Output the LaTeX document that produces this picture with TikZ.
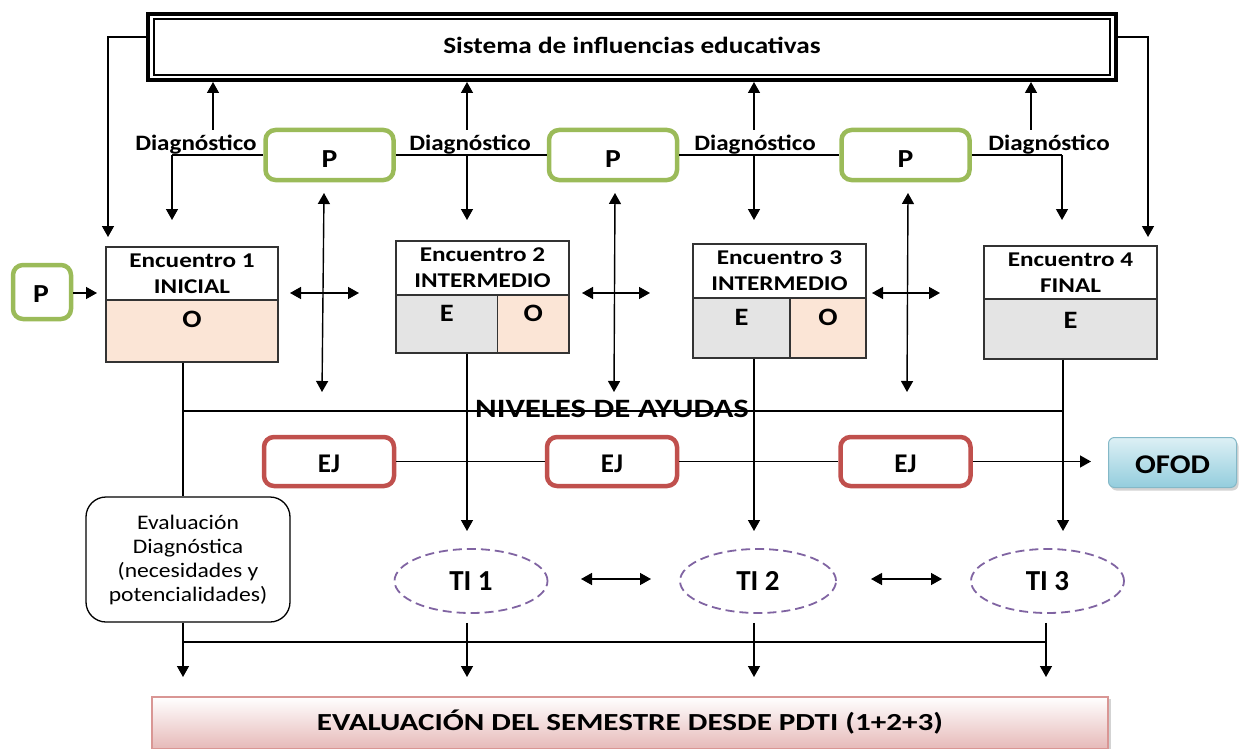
\documentclass[tikz,border=0pt]{standalone}
\usepackage{fontspec}
\setmainfont{Carlito}
\newfontfamily\fstA{Carlito}[FakeStretch=1.17]
\newfontfamily\fstB{Carlito}[FakeStretch=1.14]
\newfontfamily\fstC{Carlito}[FakeStretch=1.2]
\newfontfamily\fstD{Carlito}[FakeStretch=1.24]
\newfontfamily\fstE{Carlito}[FakeStretch=1.27]
\usetikzlibrary{arrows.meta,shapes.geometric,shadows,calc}
\definecolor{pgreen}{HTML}{9BBB59}
\definecolor{pred}{HTML}{C0504D}
\definecolor{ppurple}{HTML}{8064A2}
\definecolor{peach}{HTML}{FBE5D6}
\definecolor{grayc}{HTML}{E4E4E4}
\definecolor{ofodtop}{HTML}{DDF0F5}
\definecolor{ofodbot}{HTML}{93CDDD}
\definecolor{pinkbot}{HTML}{E6B9B8}
\definecolor{pinkbd}{HTML}{D99694}
\tikzset{
  arr/.style={-{Triangle[length=11pt,width=12pt]}, line width=1.4pt},
  darr/.style={{Triangle[length=11pt,width=12pt]}-{Triangle[length=11pt,width=12pt]}, line width=1.4pt},
  ln/.style={line width=1.4pt},
  diag/.style={font=\fstB\bfseries\fontsize{22}{26}\selectfont, inner sep=0pt},
  pbox/.style={draw=pgreen, line width=4.5pt, rounded corners=10pt, minimum width=128pt, minimum height=50pt, inner sep=0pt},
  ejbox/.style={draw=pred, line width=4.5pt, rounded corners=10pt, minimum width=130pt, minimum height=49pt, inner sep=0pt},
  ptxt/.style={inner sep=0pt, font=\fstB\bfseries\fontsize{26}{30}\selectfont},
  ejtxt/.style={inner sep=0pt, font=\bfseries\fontsize{27}{30}\selectfont},
  hdr/.style={draw=black!80, line width=1.2pt, fill=white, align=center, inner sep=0pt, font=\fstC\bfseries\fontsize{21}{26}\selectfont},
  cellO/.style={draw=black!80, line width=1.2pt, fill=peach, inner sep=0pt},
  cellE/.style={draw=black!80, line width=1.2pt, fill=grayc, inner sep=0pt},
  celltxt/.style={inner sep=0pt, font=\fstB\bfseries\fontsize{25}{28}\selectfont},
  tiell/.style={ellipse, draw=ppurple, line width=1.8pt, dash pattern=on 9pt off 5pt, minimum height=64pt, inner sep=0pt, font=\bfseries\fontsize{29}{32}\selectfont},
}
\begin{document}
\begin{tikzpicture}[x=1pt,y=-1pt]
\useasboundingbox (0,0) rectangle (1239,749);

% top system box
\node[draw, line width=4pt, minimum width=968pt, minimum height=66pt, inner sep=0pt] (sys) at (632,47) {};
\draw[line width=1.2pt] ($(sys.south west)+(8,-7)$) rectangle ($(sys.north east)+(-8,7)$);
\node[inner sep=0pt, font=\fstA\bfseries\fontsize{23.3}{28}\selectfont] (syst) at (632,45) {Sistema de influencias educativas};

% side connectors
\coordinate (lc) at (108,237);
\coordinate (rc) at (1148,237);
\draw[arr] (sys.west |- 0,37) -| (lc);
\draw[arr] (sys.east |- 0,37) -| (rc);

% P boxes
\node[pbox] (p1) at (329.5,155) {};
\node[pbox] (p2) at (613,155) {};
\node[pbox] (p3) at (905.5,155) {};
\node[pbox, minimum width=58pt, minimum height=54pt] (p0) at (42,292) {};
\node[ptxt] (p1t) at (329.5,159) {P};
\node[ptxt] (p2t) at (613,159) {P};
\node[ptxt] (p3t) at (905.5,159) {P};
\node[ptxt] (p0t) at (41,294) {P};

% diagnostico labels
\node[diag] (dg1) at (196,145) {Diagnóstico};
\node[diag] (dg2) at (470,145) {Diagnóstico};
\node[diag] (dg3) at (755,145) {Diagnóstico};
\node[diag] (dg4) at (1049,145) {Diagnóstico};

% diagnostic line
\coordinate (d1) at (172,155);
\coordinate (d2) at (467,155);
\coordinate (d3) at (754,155);
\coordinate (d4) at (1062,155);
\draw[ln] (d1) -- (p1.west);
\draw[ln] (p1.east) -- (p2.west);
\draw[ln] (p2.east) -- (p3.west);
\draw[ln] (p3.east) -- (d4);
\draw[arr] (d1) -- (172,220);
\draw[arr] (d2) -- (467,220);
\draw[arr] (d3) -- (754,220);
\draw[arr] (d4) -- (1062,220);
% up arrows
\coordinate (u1) at (213,130);
\coordinate (u2) at (467,130);
\coordinate (u3) at (754,130);
\coordinate (u4) at (1031,130);
\draw[arr] (u1) -- (sys.south -| u1);
\draw[arr] (u2) -- (sys.south -| u2);
\draw[arr] (u3) -- (sys.south -| u3);
\draw[arr] (u4) -- (sys.south -| u4);

% encounters
\node[hdr, minimum width=172pt, minimum height=53pt] (e1h) at (192,273.5) {Encuentro 1\\INICIAL};
\node[cellO, minimum width=172pt, minimum height=62pt] (e1b) at (192,331) {};
\node[celltxt] (e1t) at (192,319) {O};

\node[hdr, minimum width=173pt, minimum height=54pt] (e2h) at (482.5,268) {Encuentro 2\\INTERMEDIO};
\node[cellE, minimum width=101.5pt, minimum height=58pt] (e2e) at (446.75,324) {};
\node[cellO, minimum width=71.5pt, minimum height=58pt] (e2o) at (533.25,324) {};
\node[celltxt] (e2et) at (446.75,313) {E};
\node[celltxt] (e2ot) at (533.25,313) {O};

\node[hdr, minimum width=173pt, minimum height=54pt] (e3h) at (779.5,271) {Encuentro 3\\INTERMEDIO};
\node[cellE, minimum width=97pt, minimum height=60pt] (e3e) at (741.5,328) {};
\node[cellO, minimum width=76pt, minimum height=60pt] (e3o) at (828,328) {};
\node[celltxt] (e3et) at (741.5,317) {E};
\node[celltxt] (e3ot) at (828,317) {O};

\node[hdr, minimum width=173pt, minimum height=53pt] (e4h) at (1070.5,272.5) {Encuentro 4\\FINAL};
\node[cellE, minimum width=173pt, minimum height=60pt] (e4b) at (1070.5,329) {};
\node[celltxt] (e4t) at (1070.5,320) {E};

% P0 arrow
\coordinate (p0a) at (97,293);
\draw[arr] (p0.east |- p0a) -- (p0a);

% horizontal double arrows between encounters
\coordinate (h1a) at (290,293); \coordinate (h1b) at (359,293);
\coordinate (h2a) at (582,293); \coordinate (h2b) at (650,293);
\coordinate (h3a) at (872,293); \coordinate (h3b) at (940,293);
\draw[darr] (h1a) -- (h1b);
\draw[darr] (h2a) -- (h2b);
\draw[darr] (h3a) -- (h3b);

% vertical double arrows under P
\coordinate (v1a) at (324,193); \coordinate (v1b) at (322,392);
\coordinate (v2a) at (615,193); \coordinate (v2b) at (614,392);
\coordinate (v3a) at (908,193); \coordinate (v3b) at (907,392);
\draw[darr] (v1a) -- (v1b);
\draw[darr] (v2a) -- (v2b);
\draw[darr] (v3a) -- (v3b);

% evaluation diagnostic box
\node[draw, line width=1.3pt, rounded corners=20pt, minimum width=204pt, minimum height=125pt,
      align=center, inner sep=0pt, font=\fstB\fontsize{20.7}{24}\selectfont] (ev) at (188,559.5)
      {Evaluación\\Diagnóstica\\(necesidades y\\potencialidades)};

% TI ellipses
\node[tiell, minimum width=153pt] (ti1) at (471,581) {TI 1};
\node[tiell, minimum width=156pt] (ti2) at (758,581) {TI 2};
\node[tiell, minimum width=153pt] (ti3) at (1047.5,581) {TI 3};

% verticals from encounters
\coordinate (n1) at (183,411);
\coordinate (n4) at (1063,411);
\draw[ln] (e1b.south -| n1) -- (ev.north -| n1);
\draw[arr] (e2e.south -| 467,0) -- (467,531);
\draw[arr] (e3e.south -| 754,0) -- (754,531);
\draw[arr] (e4b.south -| n4) -- (1063,531);
\draw[ln] (n1) -- (n4);
\node[inner sep=0pt, font=\fstD\bfseries\fontsize{26.5}{30}\selectfont] (niv) at (612,409) {NIVELES DE AYUDAS};

% EJ row
\node[ejbox] (ej1) at (329,461.5) {};
\node[ejbox] (ej2) at (612,461.5) {};
\node[ejbox] (ej3) at (905.5,461.5) {};
\node[ejtxt] (ej1t) at (329,464) {EJ};
\node[ejtxt] (ej2t) at (612,464) {EJ};
\node[ejtxt] (ej3t) at (905.5,464) {EJ};
\node[draw=ofodbot!90!black, line width=1pt, rounded corners=6pt, top color=ofodtop, bottom color=ofodbot,
      minimum width=128pt, minimum height=50pt, inner sep=0pt,
      drop shadow={shadow xshift=2pt, shadow yshift=-3pt, opacity=0.35}] (ofod) at (1172.5,462.5) {};
\node[inner sep=0pt, font=\fstB\bfseries\fontsize{27}{30}\selectfont] (ofodt) at (1172.5,465) {OFOD};
\draw[ln] (ej1.east) -- (ej2.west);
\draw[ln] (ej2.east) -- (ej3.west);
\draw[arr, shorten >=17pt] (ej3.east) -- (ej3.east -| ofod.west);

% TI arrows
\coordinate (t1a) at (581,579); \coordinate (t1b) at (651,579);
\coordinate (t2a) at (871,579); \coordinate (t2b) at (942,579);
\draw[darr] (t1a) -- (t1b);
\draw[darr] (t2a) -- (t2b);

% bottom evaluation box
\node[draw=pinkbd, line width=1.5pt, top color=white, bottom color=pinkbot, minimum width=956pt, minimum height=52pt,
      inner sep=0pt, drop shadow={shadow xshift=3pt, shadow yshift=-2pt, opacity=0.35}] (sem) at (630,723) {};
\node[inner sep=0pt, font=\fstE\bfseries\fontsize{24.5}{30}\selectfont] (semt) at (630,722) {EVALUACIÓN DEL SEMESTRE DESDE PDTI (1+2+3)};

% bottom connectors
\coordinate (b1) at (183,642);
\coordinate (b4) at (1046,642);
\draw[ln] (b1) -- (b4);
\draw[arr] (ev.south -| b1) -- (183,677);
\draw[arr] ([yshift=-9pt]ti1.south -| 467,0) -- (467,677);
\draw[arr] ([yshift=-9pt]ti2.south -| 754,0) -- (754,677);
\draw[arr] ([yshift=-9pt]ti3.south -| b4) -- (1046,677);
\end{tikzpicture}
\end{document}
